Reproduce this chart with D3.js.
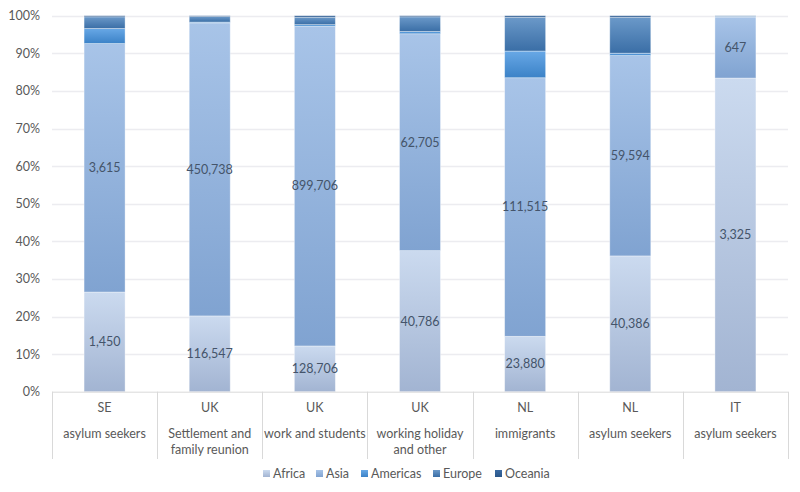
<!DOCTYPE html>
<html>
<head>
<meta charset="utf-8">
<script src="https://cdn.jsdelivr.net/npm/d3@7"></script>
<style>
  html, body { margin: 0; padding: 0; background: #fff; }
  svg { display: block; font-family: Lato, "Open Sans", sans-serif; }
</style>
</head>
<body>
<svg id="chart" width="800" height="492"></svg>
<script>
// ---- data ----
const countries = ["SE", "UK", "UK", "UK", "NL", "NL", "IT"];
const groups = [
  ["asylum seekers"],
  ["Settlement and", "family reunion"],
  ["work and students"],
  ["working holiday", "and other"],
  ["immigrants"],
  ["asylum seekers"],
  ["asylum seekers"]
];
const regions = ["Africa", "Asia", "Americas", "Europe", "Oceania"];
const africa   = [1450, 116547, 128706, 40786, 23880, 40386, 3325];
const asia     = [3615, 450738, 899706, 62705, 111515, 59594, 647];
const americas = [219, 1200, 4500, 650, 11500, 700, 6];
const europe   = [170, 8500, 21000, 4250, 14600, 10700, 6];
const oceania  = [16, 1300, 4200, 320, 650, 450, 2];
const yTicks = [0, 0.1, 0.2, 0.3, 0.4, 0.5, 0.6, 0.7, 0.8, 0.9, 1.0];
const labelledRegions = ["Africa", "Asia"];

// ---- build table ----
const seriesValues = { Africa: africa, Asia: asia, Americas: americas, Europe: europe, Oceania: oceania };
const table = countries.map((c, i) => {
  const row = { idx: i };
  regions.forEach(r => row[r] = seriesValues[r][i]);
  return row;
});

const colors = {
  Africa:   ["#cbdaef", "#a2b4d2"],
  Asia:     ["#a8c4e8", "#80a3d1"],
  Americas: ["#68a8e6", "#3b82c7"],
  Europe:   ["#6b99c9", "#3a6ea6"],
  Oceania:  ["#3a6aa2", "#2a5689"]
};

const svg = d3.select("#chart");
const margin = { left: 52, right: 12, top: 15.7, bottom: 100.3 };
const W = 800, H = 492;
const x0 = 52, x1 = 788, yTop = 15.7, yBot = 391.7;

const defs = svg.append("defs");
regions.forEach((r, k) => {
  const g = defs.append("linearGradient").attr("id", "grad" + k)
    .attr("x1", 0).attr("y1", 0).attr("x2", 0).attr("y2", 1);
  g.append("stop").attr("offset", "0%").attr("stop-color", colors[r][0]);
  g.append("stop").attr("offset", "100%").attr("stop-color", colors[r][1]);
});

const x = d3.scaleBand().domain(d3.range(countries.length)).range([x0, x1])
  .paddingInner(0.61).paddingOuter(0.305);
const y = d3.scaleLinear().domain([0, 1]).range([yBot, yTop]);

// gridlines
svg.append("g").selectAll("line").data(yTicks.slice(1)).join("line")
  .attr("x1", x0).attr("x2", x1)
  .attr("y1", d => Math.round(y(d)) + 0.5).attr("y2", d => Math.round(y(d)) + 0.5)
  .attr("stroke", "#ececf0").attr("stroke-width", 1.3);

// y axis labels
const yAxis = d3.axisLeft(y).tickValues(yTicks).tickFormat(d3.format(".0%")).tickSize(0).tickPadding(12);
const gy = svg.append("g").attr("transform", `translate(${x0},0)`).call(yAxis);
gy.select(".domain").remove();
gy.selectAll("text").attr("fill", "#595959").attr("font-size", "12.5px")
  .attr("font-family", "Lato, sans-serif");

// stack
const stack = d3.stack().keys(regions).offset(d3.stackOffsetExpand);
const stacked = stack(table);

const layers = svg.append("g").selectAll("g").data(stacked).join("g")
  .attr("fill", (d, k) => `url(#grad${k})`);
layers.selectAll("rect").data(d => d).join("rect")
  .attr("x", d => x(d.data.idx))
  .attr("width", x.bandwidth())
  .attr("y", d => y(d[1]))
  .attr("height", d => Math.max(0, y(d[0]) - y(d[1])))
  .attr("stroke", "rgba(255,255,255,0.45)").attr("stroke-width", 0.8);

// data labels
const fmt = d3.format(",");
stacked.filter(s => labelledRegions.includes(s.key)).forEach(s => {
  svg.append("g").selectAll("text").data(s).join("text")
    .attr("x", d => x(d.data.idx) + x.bandwidth() / 2)
    .attr("y", d => (y(d[0]) + y(d[1])) / 2)
    .attr("dy", "0.35em")
    .attr("text-anchor", "middle")
    .attr("font-size", "12.5px")
    .attr("fill", "#44546a")
    .text(d => fmt(d.data[s.key]));
});

// x axis
const step = x.step();
const gx = svg.append("g");
gx.append("line").attr("x1", x0).attr("x2", x1).attr("y1", yBot + 0.5).attr("y2", yBot + 0.5)
  .attr("stroke", "#d9d9d9");
const seps = d3.range(countries.length + 1).map(i => x0 + i * step);
gx.selectAll("line.sep").data(seps).join("line").attr("class", "sep")
  .attr("x1", d => Math.round(d) + 0.5).attr("x2", d => Math.round(d) + 0.5)
  .attr("y1", yBot).attr("y2", 459)
  .attr("stroke", "#d9d9d9");
const cat = gx.selectAll("g.cat").data(countries.map((c, i) => ({ c, i }))).join("g").attr("class", "cat");
cat.append("text")
  .attr("x", d => x(d.i) + x.bandwidth() / 2).attr("y", 408).attr("dy", "0.35em")
  .attr("text-anchor", "middle").attr("font-size", "12.5px").attr("fill", "#595959")
  .text(d => d.c);
cat.each(function(d) {
  const t = d3.select(this).append("text")
    .attr("x", x(d.i) + x.bandwidth() / 2).attr("y", 433.5).attr("dy", "0.35em")
    .attr("text-anchor", "middle").attr("font-size", "12.5px").attr("fill", "#595959");
  groups[d.i].forEach((line, j) => {
    t.append("tspan").attr("x", x(d.i) + x.bandwidth() / 2)
      .attr("dy", j === 0 ? "0.35em" : "16.5px").text(line);
  });
  t.attr("dy", null);
});

// legend
const legendX = [263, 316, 361, 433, 495];
const lg = svg.append("g").selectAll("g").data(regions).join("g")
  .attr("transform", (d, k) => `translate(${legendX[k]},474)`);
lg.append("rect").attr("x", 0).attr("y", -4).attr("width", 7).attr("height", 7)
  .attr("fill", (d, k) => `url(#grad${k})`);
lg.append("text").attr("x", 10).attr("y", 0).attr("dy", "0.35em")
  .attr("font-size", "12.5px").attr("fill", "#595959").text(d => d);
</script>
</body>
</html>
